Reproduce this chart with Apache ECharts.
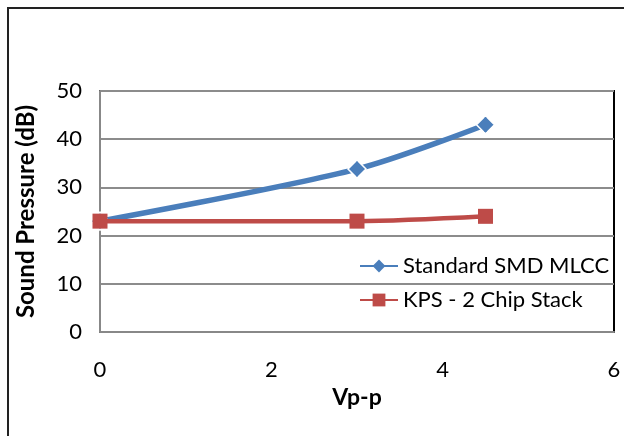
<!DOCTYPE html>
<html><head><meta charset="utf-8">
<script src="https://cdn.jsdelivr.net/npm/echarts@6/dist/echarts.min.js"></script>
<style>html,body{margin:0;padding:0;background:#fff}#c{width:624px;height:436px}</style>
</head><body><div id="c"></div>
<script>
const xTicks = [0, 2, 4, 6];
const yTicks = [0, 10, 20, 30, 40, 50];
const seriesNames = ["Standard SMD MLCC", "KPS - 2 Chip Stack"];
const voltages = [0, 3, 4.5];
const mlccValues = [23, 33.8, 43];
const mlccErr = [0, 1.5, 1.5];
const kpsValues = [23, 23, 24];

const font = 'Lato, "Open Sans", sans-serif';
const chart = echarts.init(document.getElementById('c'));
chart.setOption({
  animation: false,
  graphic: [{
    type: 'rect', shape: {x: 8, y: 8, width: 700, height: 600},
    style: {fill: 'none', stroke: '#222', lineWidth: 2}, silent: true
  }],
  grid: {left: 100, right: 10, top: 91, bottom: 104, show: true, borderColor: '#000', borderWidth: 2, backgroundColor: 'transparent'},
  xAxis: {
    type: 'value', min: 0, max: 6, interval: 2,
    name: 'Vp-p', nameLocation: 'middle', nameGap: 53,
    nameTextStyle: {fontFamily: font, fontWeight: 'bold', fontSize: 23, color: '#000'},
    axisLine: {show: true, lineStyle: {color: '#888', width: 2}},
    axisTick: {show: false},
    splitLine: {show: false},
    axisLabel: {fontFamily: font, fontSize: 22, color: '#000', margin: 27}
  },
  yAxis: {
    type: 'value', min: 0, max: 50, interval: 10,
    name: 'Sound Pressure (dB)', nameLocation: 'middle', nameGap: 62,
    nameTextStyle: {fontFamily: font, fontWeight: 'bold', fontSize: 24, color: '#000'},
    axisLine: {show: true, lineStyle: {color: '#888', width: 2}},
    axisTick: {show: false},
    splitLine: {show: true, lineStyle: {color: '#8c8c8c', width: 2}},
    axisLabel: {fontFamily: font, fontSize: 22, color: '#000', margin: 18}
  },
  legend: {
    orient: 'vertical', left: 354, top: 250, itemGap: 12,
    itemWidth: 38, itemHeight: 16,
    itemStyle: {borderWidth: 0},
    textStyle: {fontFamily: font, fontSize: 22, color: '#000'},
    data: seriesNames
  },
  series: [
    {
      name: seriesNames[0], type: 'line', smooth: 0.3,
      data: voltages.map((v, i) => [v, mlccValues[i]]),
      symbol: 'diamond', symbolSize: 18,
      itemStyle: {color: '#4a7ebb', borderColor: '#fff', borderWidth: 1.5}, lineStyle: {color: '#4a7ebb', width: 5.5}, z: 2
    },
    {
      name: seriesNames[1], type: 'line', smooth: 0.3,
      data: voltages.map((v, i) => [v, kpsValues[i]]),
      symbol: 'rect', symbolSize: 15,
      itemStyle: {color: '#be4b48'}, lineStyle: {color: '#be4b48', width: 4.5}, z: 3
    },
    {
      type: 'custom', silent: true, z: 4,
      data: voltages.map((v, i) => [v, mlccValues[i] - mlccErr[i], mlccValues[i] + mlccErr[i]]),
      renderItem: function (params, api) {
        const lo = api.coord([api.value(0), api.value(1)]);
        const hi = api.coord([api.value(0), api.value(2)]);
        return {type: 'line', shape: {x1: lo[0], y1: lo[1], x2: hi[0], y2: hi[1]}, style: {stroke: '#4a7ebb', lineWidth: 2}};
      }
    }
  ]
});
</script></body></html>
